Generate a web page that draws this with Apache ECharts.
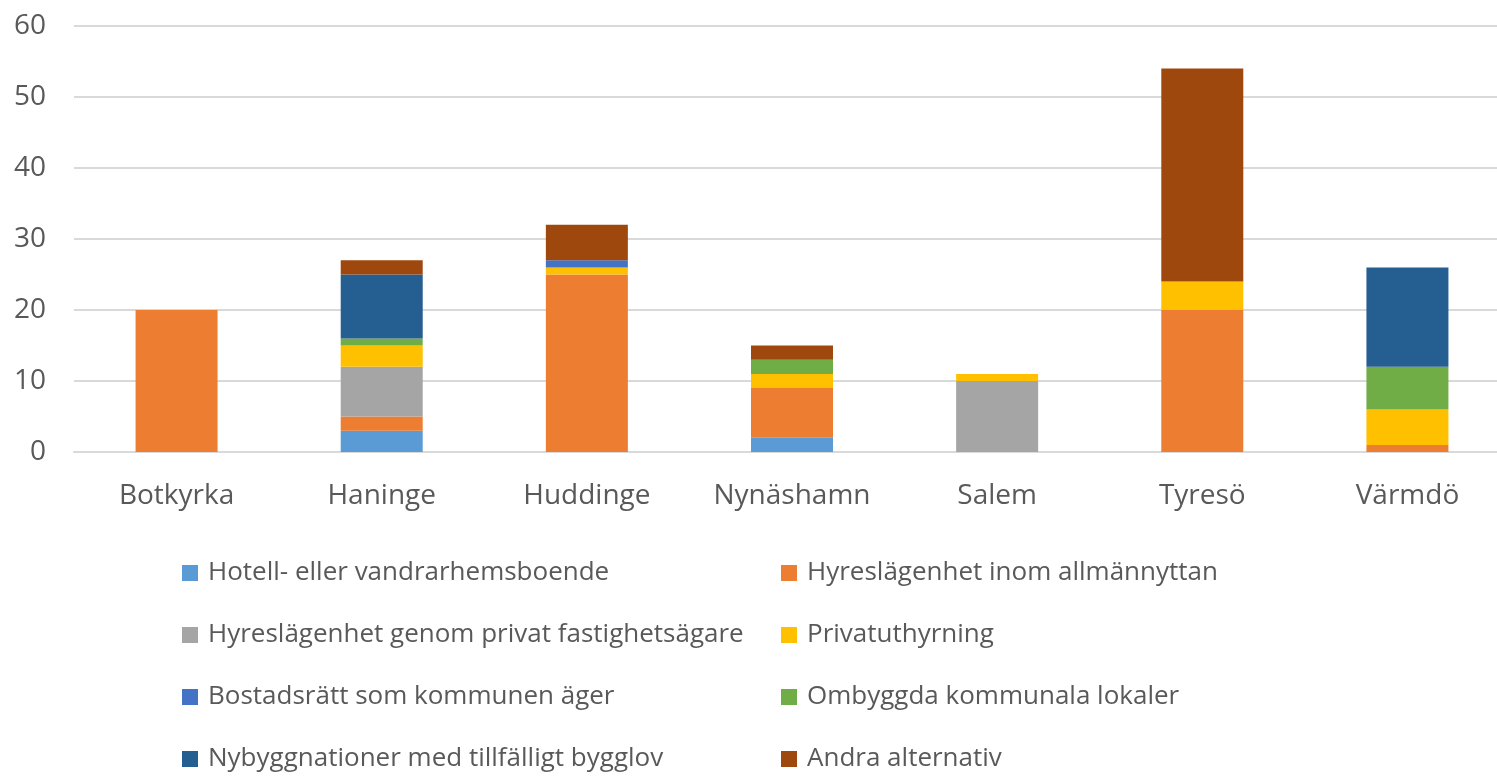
<!DOCTYPE html>
<html>
<head>
<meta charset="utf-8">
<script src="https://cdn.jsdelivr.net/npm/echarts@6/dist/echarts.min.js"></script>
<style>
  html, body { margin: 0; padding: 0; background: #fff; }
  #chart { width: 1497px; height: 776px; }
</style>
</head>
<body>
<div id="chart"></div>
<script>
// kommuner
const kommuner = ['Botkyrka', 'Haninge', 'Huddinge', 'Nynäshamn', 'Salem', 'Tyresö', 'Värmdö']

// antal per boendeform
const hotell = [0, 3, 0, 2, 0, 0, 0]
const allmannyttan = [20, 2, 25, 7, 0, 20, 1]
const privatFastighet = [0, 7, 0, 0, 10, 0, 0]
const privatuthyrning = [0, 3, 1, 2, 1, 4, 5]
const bostadsratt = [0, 0, 1, 0, 0, 0, 0]
const ombyggda = [0, 1, 0, 2, 0, 0, 6]
const nybygg = [0, 9, 0, 0, 0, 0, 14]
const andra = [0, 2, 5, 2, 0, 30, 0]

const yTicks = [0, 10, 20, 30, 40, 50, 60]

const serier = [
  { name: 'Hotell- eller vandrarhemsboende', data: hotell, color: '#5B9BD5' },
  { name: 'Hyreslägenhet inom allmännyttan', data: allmannyttan, color: '#ED7D31' },
  { name: 'Hyreslägenhet genom privat fastighetsägare', data: privatFastighet, color: '#A5A5A5' },
  { name: 'Privatuthyrning', data: privatuthyrning, color: '#FFC000' },
  { name: 'Bostadsrätt som kommunen äger', data: bostadsratt, color: '#4472C4' },
  { name: 'Ombyggda kommunala lokaler', data: ombyggda, color: '#70AD47' },
  { name: 'Nybyggnationer med tillfälligt bygglov', data: nybygg, color: '#255E91' },
  { name: 'Andra alternativ', data: andra, color: '#9E480E' },
]

const font = '"Open Sans", "Liberation Sans", sans-serif'
const textColor = '#595959'

// legenden i två kolumner
const legendBase = {
  orient: 'vertical',
  top: 560,
  padding: 0,
  itemWidth: 16,
  itemHeight: 16,
  itemGap: 36,
  icon: 'rect',
  textStyle: { fontFamily: font, fontSize: 26, color: textColor, lineHeight: 26, padding: [0, 0, 0, 5] },
}

let chart = echarts.init(document.getElementById('chart'))
chart.setOption({
  animation: false,
  // diagrammet går lite utanför högerkanten i originalet
  grid: { left: 74, width: 1436, top: 26, bottom: 324, outerBoundsMode: 'none', containLabel: false },
  legend: [
    Object.assign({}, legendBase, {
      left: 182,
      data: [serier[0].name, serier[2].name, serier[4].name, serier[6].name],
    }),
    Object.assign({}, legendBase, {
      left: 781,
      data: [serier[1].name, serier[3].name, serier[5].name, serier[7].name],
    }),
  ],
  xAxis: {
    type: 'category',
    data: kommuner,
    axisLine: { lineStyle: { color: '#d9d9d9', width: 2 } },
    axisTick: { show: false },
    axisLabel: { fontFamily: font, fontSize: 28, color: textColor, margin: 30, interval: 0 },
  },
  yAxis: {
    type: 'value',
    min: yTicks[0],
    max: yTicks[yTicks.length - 1],
    interval: 10,
    axisLine: { show: false },
    axisTick: { show: false },
    splitLine: { lineStyle: { color: '#d9d9d9', width: 2 } },
    axisLabel: { fontFamily: font, fontSize: 28, color: textColor, margin: 28 },
  },
  series: serier.map(s => ({
    name: s.name,
    type: 'bar',
    stack: 'total',
    barWidth: 82,
    data: s.data,
    itemStyle: { color: s.color },
  })),
})
</script>
</body>
</html>
